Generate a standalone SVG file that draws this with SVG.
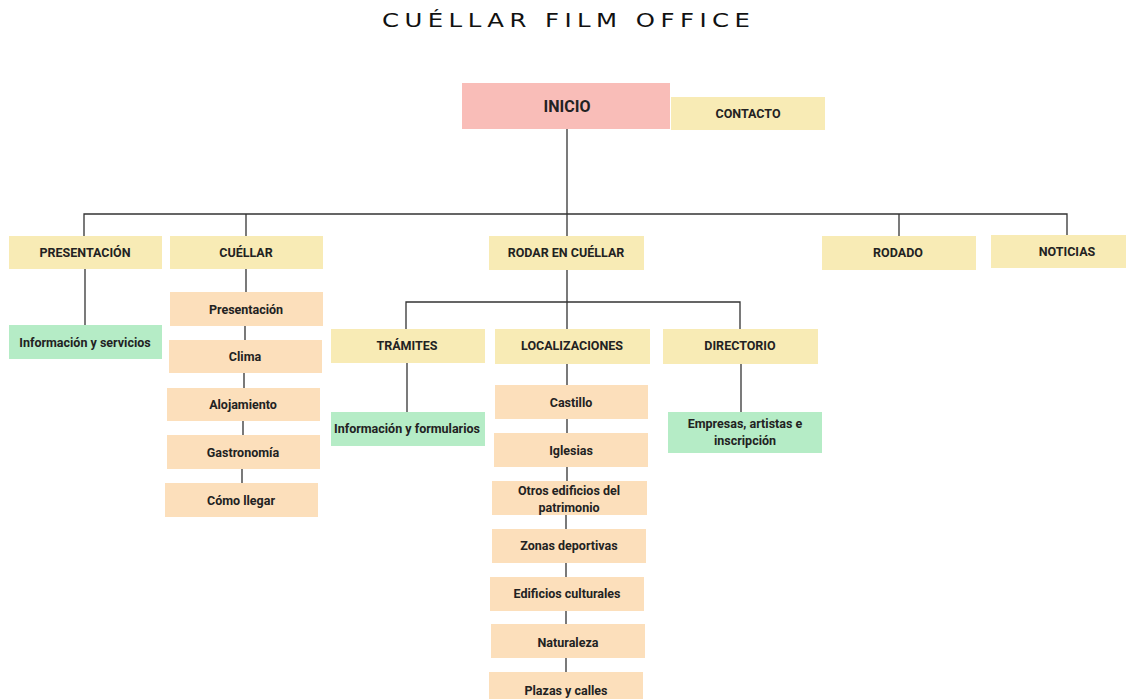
<svg xmlns="http://www.w3.org/2000/svg" width="1126" height="699" viewBox="0 0 1126 699">
<style>
.y{fill:#f8ebb5}.p{fill:#f9bdb8}.o{fill:#fcdfbb}.g{fill:#b5ecc6}
text{font-family:Roboto,"Liberation Sans",sans-serif;font-weight:bold;font-size:12.5px;fill:#222;text-anchor:middle;dominant-baseline:central}
.t{font-family:"DejaVu Sans","Liberation Sans",sans-serif;font-weight:normal;font-size:20px;fill:#111;text-anchor:start;dominant-baseline:alphabetic}
#conn path{fill:none;stroke:#333;stroke-width:1.3}
</style>
<rect width="1126" height="699" fill="#fff"/>
<text class="t" transform="scale(1.22,1)" x="313.1" y="27" textLength="301.6" lengthAdjust="spacing">CUÉLLAR FILM OFFICE</text>
<g id="conn">
<path d="M567 129V236"/>
<path d="M84 236V214H1067V236"/>
<path d="M246 214V236"/>
<path d="M899 214V236"/>
<path d="M85 269V325"/>
<path d="M246 269V292M245 326V340M244 373V388M243 421V435M242 469V483"/>
<path d="M567 270V329M406 329V302H740V329"/>
<path d="M407 363V412"/>
<path d="M741 364V412"/>
<path d="M567 364V385M567 419V433M567 467V481M566 515V529M566 563V577M566 611V624M566 658V672"/>
</g>
<g id="inicio"><rect class="p" x="462" y="83" width="208" height="46"/><text x="567" y="106" style="font-size:16px">INICIO</text></g>
<g id="contacto"><rect class="y" x="671" y="97" width="154" height="33"/><text x="748" y="113">CONTACTO</text></g>
<g id="presentacion"><rect class="y" x="9" y="236" width="153" height="33"/><text x="85" y="252">PRESENTACIÓN</text></g>
<g id="cuellar"><rect class="y" x="170" y="236" width="153" height="33"/><text x="246" y="252">CUÉLLAR</text></g>
<g id="rodar"><rect class="y" x="489" y="236" width="155" height="34"/><text x="566" y="252">RODAR EN CUÉLLAR</text></g>
<g id="rodado"><rect class="y" x="822" y="236" width="154" height="34"/><text x="898" y="252">RODADO</text></g>
<g id="noticias"><rect class="y" x="991" y="235" width="135" height="33"/><text x="1067" y="251">NOTICIAS</text></g>
<g id="info-servicios"><rect class="g" x="9" y="325" width="153" height="34"/><text x="85" y="342">Información y servicios</text></g>
<g id="c-presentacion"><rect class="o" x="170" y="292" width="153" height="34"/><text x="246" y="309">Presentación</text></g>
<g id="c-clima"><rect class="o" x="169" y="340" width="153" height="33"/><text x="245" y="356">Clima</text></g>
<g id="c-alojamiento"><rect class="o" x="167" y="388" width="153" height="33"/><text x="243" y="404">Alojamiento</text></g>
<g id="c-gastronomia"><rect class="o" x="167" y="435" width="153" height="34"/><text x="243" y="452">Gastronomía</text></g>
<g id="c-llegar"><rect class="o" x="165" y="483" width="153" height="34"/><text x="241" y="500">Cómo llegar</text></g>
<g id="tramites"><rect class="y" x="331" y="329" width="154" height="34"/><text x="407" y="345">TRÁMITES</text></g>
<g id="localizaciones"><rect class="y" x="495" y="329" width="155" height="35"/><text x="572" y="345">LOCALIZACIONES</text></g>
<g id="directorio"><rect class="y" x="663" y="329" width="155" height="35"/><text x="740" y="345">DIRECTORIO</text></g>
<g id="info-formularios"><rect class="g" x="331" y="412" width="154" height="34"/><text x="407" y="428">Información y formularios</text></g>
<g id="empresas"><rect class="g" x="668" y="412" width="154" height="41"/><text x="745" y="423">Empresas, artistas e</text><text x="745" y="440">inscripción</text></g>
<g id="l-castillo"><rect class="o" x="495" y="385" width="153" height="34"/><text x="571" y="402">Castillo</text></g>
<g id="l-iglesias"><rect class="o" x="494" y="433" width="154" height="34"/><text x="571" y="450">Iglesias</text></g>
<g id="l-otros"><rect class="o" x="492" y="481" width="155" height="34"/><text x="569" y="490">Otros edificios del</text><text x="569" y="507">patrimonio</text></g>
<g id="l-zonas"><rect class="o" x="492" y="529" width="154" height="34"/><text x="569" y="545">Zonas deportivas</text></g>
<g id="l-culturales"><rect class="o" x="490" y="577" width="154" height="34"/><text x="567" y="593">Edificios culturales</text></g>
<g id="l-naturaleza"><rect class="o" x="491" y="624" width="154" height="34"/><text x="568" y="642">Naturaleza</text></g>
<g id="l-plazas"><rect class="o" x="489" y="672" width="154" height="34"/><text x="566" y="690">Plazas y calles</text></g>
</svg>
